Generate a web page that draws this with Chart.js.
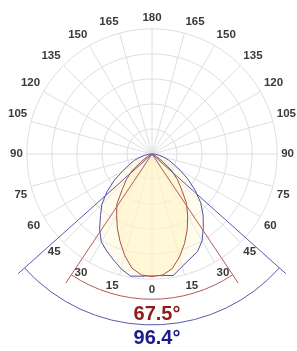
<!DOCTYPE html>
<html>
<head>
<meta charset="utf-8">
<script src="https://cdn.jsdelivr.net/npm/chart.js@4.4.0/dist/chart.umd.min.js"></script>
<style>
  html, body { margin: 0; padding: 0; background: #fff; }
</style>
</head>
<body>
<canvas id="polarChart" width="297" height="351"></canvas>
<script>
// Angle from the beam axis (0 = straight down), one reading every 5 degrees
const angleStep = 5;
const angles = [0, 5, 10, 15, 20, 25, 30, 35, 40, 45, 50, 55, 60, 65, 70, 75, 80, 85, 90];

// Relative intensity, red plane (narrow one) - right and left half
const redRight = [0.98, 0.97, 0.93, 0.85, 0.76, 0.665, 0.57, 0.48, 0.365, 0.285, 0.205, 0.1, 0.04, 0.01, 0, 0, 0, 0, 0];
const redLeft  = [0.98, 0.97, 0.925, 0.84, 0.745, 0.655, 0.565, 0.49, 0.37, 0.29, 0.21, 0.1, 0.04, 0.01, 0, 0, 0, 0, 0];

// Relative intensity, blue plane (wide one)
const blueRight = [0.97, 0.975, 0.985, 0.93, 0.89, 0.86, 0.80, 0.715, 0.635, 0.55, 0.45, 0.35, 0.26, 0.19, 0.14, 0.095, 0.06, 0.03, 0];
const blueLeft  = [0.97, 0.98, 0.99, 0.95, 0.90, 0.855, 0.81, 0.73, 0.64, 0.565, 0.47, 0.37, 0.27, 0.20, 0.15, 0.10, 0.06, 0.03, 0];

// Beam angles (full angle, degrees)
const beamAngles = [67.5, 96.4];

// 72 spokes around the circle, label = angle measured from the bottom
let labels = [];
for (let i = 0; i < 360 / angleStep; i++) {
    labels.push(String(Math.abs(180 - i * angleStep)));
}

// Turn a left/right half profile into one value per spoke
function spread(right, left) {
    return labels.map((lbl, i) => {
        const k = angles.indexOf(Number(lbl));
        if (k < 0) return 0;
        return i < 180 / angleStep ? right[k] : left[k];
    });
}

const beams = [
    { angle: beamAngles[0], color: '#b05a5a', text: '#8e1a1a', arc: 1.16, line: 1.24, textY: 160 },
    { angle: beamAngles[1], color: '#5a5ab0', text: '#1a1a8a', arc: 1.365, line: 1.435, textY: 184 }
];

// Draws beam angle lines, arcs and the values under the plot
const beamPlugin = {
    id: 'beamAngles',
    afterDatasetsDraw(chart) {
        const scale = chart.scales.r;
        const ctx = chart.ctx;
        beams.forEach(b => {
            const half = b.angle / 2;
            const iRight = (180 - half) / angleStep;
            const iLeft = (180 + half) / angleStep;
            ctx.save();
            ctx.strokeStyle = b.color;
            ctx.lineWidth = 1;
            ctx.beginPath();
            [iRight, iLeft].forEach(i => {
                const p = scale.getPointPositionForValue(i, b.line);
                ctx.moveTo(scale.xCenter, scale.yCenter);
                ctx.lineTo(p.x, p.y);
            });
            ctx.stroke();
            ctx.beginPath();
            ctx.arc(scale.xCenter, scale.yCenter, scale.getDistanceFromCenterForValue(b.arc),
                scale.getIndexAngle(iRight) - Math.PI / 2, scale.getIndexAngle(iLeft) - Math.PI / 2);
            ctx.stroke();
            ctx.fillStyle = b.text;
            ctx.font = 'bold 20px "Liberation Sans", Arial, sans-serif';
            ctx.textAlign = 'center';
            ctx.textBaseline = 'middle';
            ctx.fillText(b.angle.toFixed(1) + '°', scale.xCenter + 5, scale.yCenter + b.textY);
            ctx.restore();
        });
    }
};

const canvas = document.getElementById('polarChart');
const context = canvas.getContext('2d');

new Chart(context, {
    type: 'radar',
    data: {
        labels: labels,
        datasets: [
            {
                label: 'C0',
                data: spread(redRight, redLeft),
                borderColor: '#a85040',
                backgroundColor: 'rgba(255, 244, 190, 0.5)',
                fill: 'origin',
                borderWidth: 1,
                pointRadius: 0,
                tension: 0
            },
            {
                label: 'C90',
                data: spread(blueRight, blueLeft),
                borderColor: '#5050a8',
                backgroundColor: 'rgba(255, 248, 210, 0.4)',
                fill: 'origin',
                borderWidth: 1,
                pointRadius: 0,
                tension: 0
            }
        ]
    },
    options: {
        responsive: false,
        animation: false,
        layout: { padding: { left: 8, right: 1, top: 8, bottom: 49 } },
        plugins: {
            legend: { display: false },
            tooltip: { enabled: false }
        },
        scales: {
            r: {
                min: 0,
                max: 1,
                startAngle: 0,
                ticks: { display: false, stepSize: 0.2 },
                grid: { circular: true, color: '#dedede', lineWidth: 1 },
                angleLines: {
                    color: '#dedede',
                    lineWidth: ctx => ctx.index % 3 === 0 ? 1 : 0
                },
                pointLabels: {
                    padding: 4,
                    color: '#3a3a3a',
                    font: { family: '"Liberation Sans", Arial, sans-serif', size: 11.5, weight: 'bold' },
                    callback: (label, i) => i % 3 === 0 ? label : ''
                }
            }
        }
    },
    plugins: [beamPlugin]
});
</script>
</body>
</html>
